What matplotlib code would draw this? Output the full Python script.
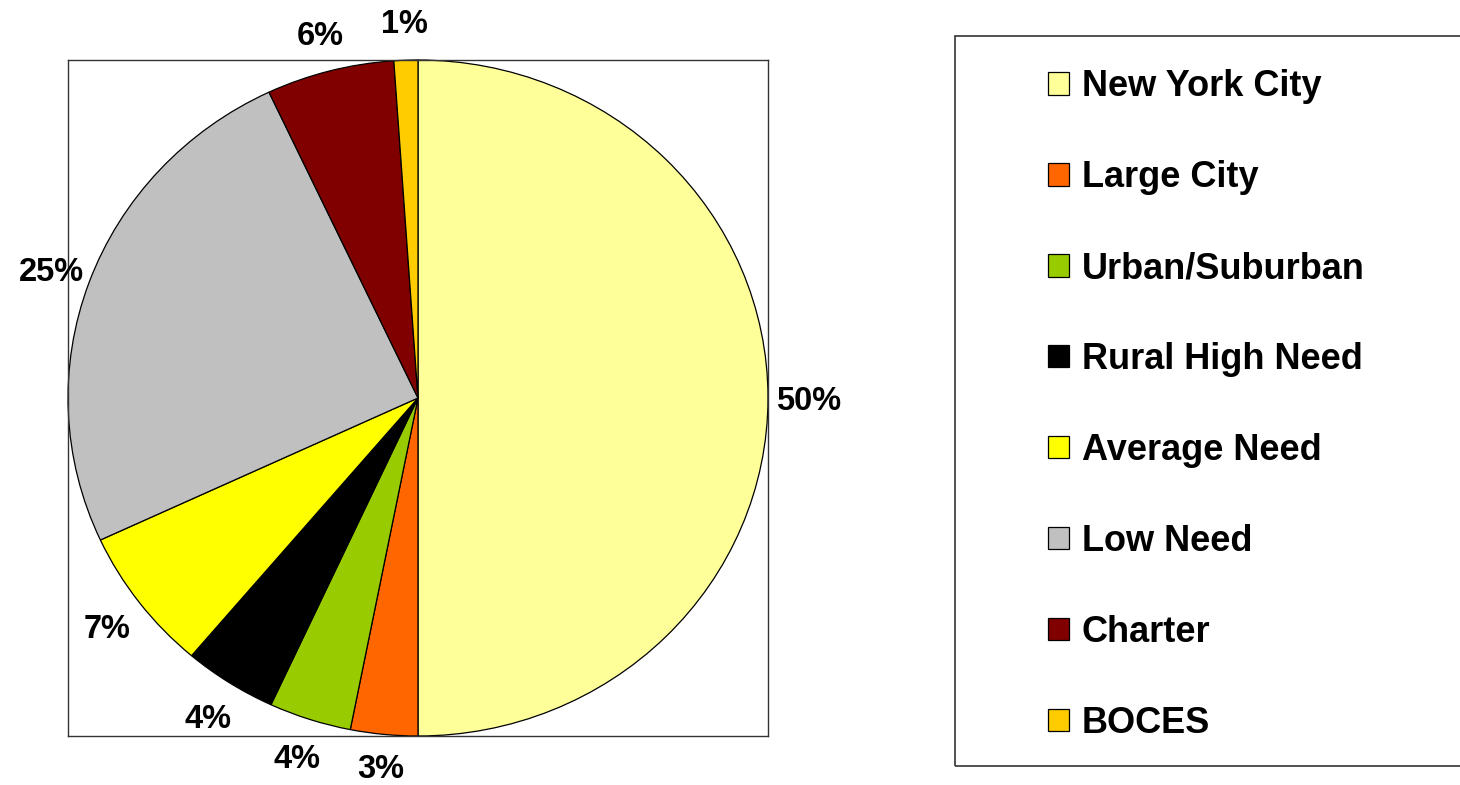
import numpy as np
import matplotlib.pyplot as plt
from matplotlib.patches import Rectangle

plt.rcParams['font.family'] = ['Liberation Sans', 'DejaVu Sans']

categories = ["New York City", "Large City", "Urban/Suburban", "Rural High Need",
              "Average Need", "Low Need", "Charter", "BOCES"]
shares = [50.0, 3.1, 3.8, 4.3, 6.9, 24.9, 5.9, 1.1]
colors = ["#FFFF99", "#FF6600", "#99CC00", "#000000",
          "#FFFF00", "#C0C0C0", "#800000", "#FFCC00"]
pct_labels = ["%d%%" % round(v) for v in shares]

W, H = 1460, 785
fig = plt.figure(figsize=(W / 100, H / 100), dpi=100)
ax = fig.add_axes([68 / W, (H - 736) / H, 700 / W, 676 / H])

wedges, texts = ax.pie(shares, labels=pct_labels, colors=colors, startangle=90,
                       counterclock=False, labeldistance=1.115, frame=True,
                       wedgeprops=dict(edgecolor="black", linewidth=0.9))
for w, t in zip(wedges, texts):
    t.set_ha("center")
    t.set_va("center_baseline")
    t.set_fontsize(23.5)
    t.set_fontweight("bold")
    # keep the label at the very bottom inside the canvas
    th = np.deg2rad((w.theta1 + w.theta2) / 2)
    if np.sin(th) < -0.98:
        t.set_position((1.095 * np.cos(th), 1.095 * np.sin(th)))

ax.set_aspect("auto")
ax.set_xlim(-1, 1)
ax.set_ylim(-1, 1)
ax.set_xticks([])
ax.set_yticks([])
for s in ax.spines.values():
    s.set_color("#333333")
    s.set_linewidth(1.0)

# legend frame runs off the right edge
fig.patches.append(Rectangle((955 / W, (H - 766) / H), 600 / W, 730 / H,
                             transform=fig.transFigure, facecolor="none",
                             edgecolor="#333333", linewidth=1.2))

leg = fig.legend(wedges, categories, loc="center left",
                 bbox_to_anchor=(1048 / W, (H - 405) / H),
                 frameon=False, borderpad=0, borderaxespad=0,
                 handlelength=0.58, handleheight=0.58, handletextpad=0.36,
                 labelspacing=1.55, prop=dict(size=26, weight="bold"))

fig.savefig("out.png", dpi=100)
